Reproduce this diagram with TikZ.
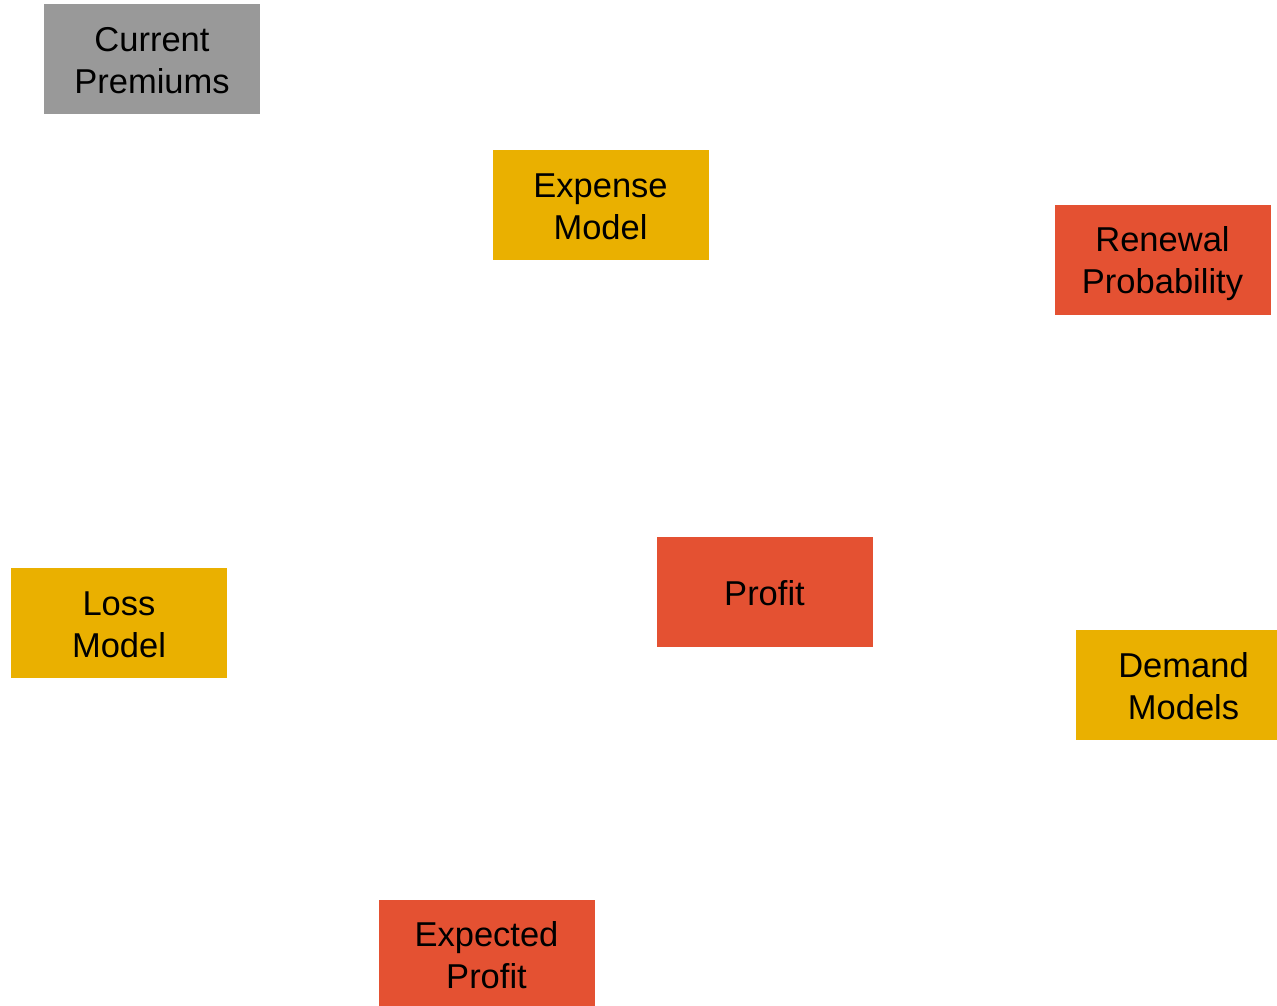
\documentclass[tikz,border=0pt]{standalone}
\usepackage{fontspec}
\setmainfont{Liberation Sans}
\definecolor{greybox}{RGB}{153,153,153}
\definecolor{goldbox}{RGB}{234,176,0}
\definecolor{redbox}{RGB}{228,81,50}
\begin{document}
\begin{tikzpicture}[x=1pt,y=-1pt,
  box/.style={rectangle, minimum width=216pt, minimum height=110pt, inner sep=0pt},
  lbl/.style={inner sep=0pt, align=center, font=\fontsize{34.5}{42}\selectfont, text=black},
  grey/.style={box, fill=greybox},
  gold/.style={box, fill=goldbox},
  red/.style={box, fill=redbox}]
\useasboundingbox (0,0) rectangle (1277,1006);
\clip (0,0) rectangle (1277,1006);
\fill[white] (0,0) rectangle (1277,1006);
\node[grey] (premiums) at (152,59) {};
\node[gold] (expense) at (600.5,205) {};
\node[red] (renewal) at (1162.5,259.5) {};
\node[gold] (loss) at (119,623) {};
\node[red] (profit) at (764.5,592) {};
\node[gold] (demand) at (1183.5,685) {};
\node[red] (expected) at (486.5,955) {};
\node[lbl] (premiumsT) at ([yshift=-1.5pt]premiums.center) {Current\\Premiums};
\node[lbl] (expenseT) at ([yshift=-2pt]expense.center) {Expense\\Model};
\node[lbl] (renewalT) at ([yshift=-4pt]renewal.center) {Renewal\\Probability};
\node[lbl] (lossT) at ([yshift=-2pt]loss.center) {Loss\\Model};
\node[lbl] (profitT) at ([yshift=-1pt]profit.center) {Profit};
\node[lbl] (demandT) at ([yshift=-1pt]demand.center) {Demand\\Models};
\node[lbl] (expectedT) at (expected.center) {Expected\\Profit};
\end{tikzpicture}
\end{document}
